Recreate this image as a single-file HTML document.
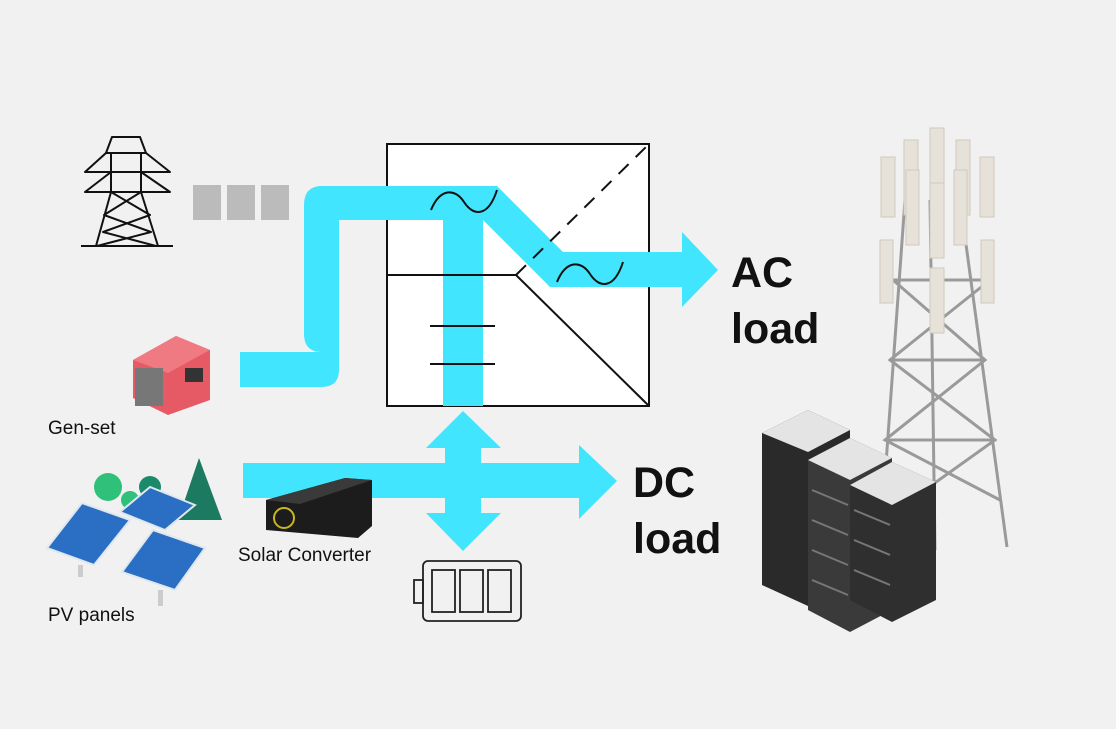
<!DOCTYPE html>
<html><head><meta charset="utf-8"><style>
html,body{margin:0;padding:0;background:#f0f1f0;}
svg{display:block}
text{font-family:"Liberation Sans",sans-serif;}
</style></head><body>
<svg width="1116" height="729" viewBox="0 0 1116 729" xmlns="http://www.w3.org/2000/svg">
<rect width="1116" height="729" fill="#f0f1f0"/>
<!-- pylon -->
<g stroke="#111" stroke-width="2" fill="none" stroke-linejoin="round">
<path d="M112,137 L140,137 L146,153 L106,153 Z"/>
<path d="M106,153 L85,172 L170,172 L146,153"/>
<path d="M111,153 L111,192 M141,153 L141,192"/>
<path d="M111,172 L85,192 L170,192 L141,172"/>
<path d="M111,192 L96,246 M141,192 L158,246"/>
<path d="M111,192 L150,215 L103,232 L156,246 M141,192 L104,215 L151,232 L97,246"/>
<path d="M81,246 L173,246"/>
</g>
<rect x="193" y="185" width="28" height="35" fill="#bbb"/>
<rect x="227" y="185" width="28" height="35" fill="#bbb"/>
<rect x="261" y="185" width="28" height="35" fill="#bbb"/>
<!-- box -->
<rect x="387" y="144" width="262" height="262" fill="#fff" stroke="#111" stroke-width="2"/>
<!-- cyan flows -->
<g fill="#41e5fd">
<path d="M240,352 L322,352 Q304,352 304,334 L304,205 Q304,186 322,186 L497,186 L563,252 L682,252 L682,232 L718,270 L682,307 L682,287 L550,287 L483,220 L339,220 L339,370 Q339,387 321,387 L240,387 Z"/>
<rect x="443" y="215" width="40" height="191"/>
<rect x="243" y="463" width="336" height="35"/>
<path d="M579,445 L617,481 L579,519 Z"/>
<rect x="445" y="446" width="36" height="70"/>
<path d="M426,448 L463,411 L501,448 Z"/>
<path d="M426,513 L463,551 L501,513 Z"/>
</g>
<g stroke="#111" stroke-width="2" fill="none">
<path d="M387,275 L516,275 L649,406"/>
<path d="M516,275 L649,144" stroke-dasharray="14,10"/>
<path d="M430,326 L495,326 M430,364 L495,364"/>
<path d="M431,210 C440,188 455,188 464,202 C473,216 488,218 497,190"/>
<path d="M557,282 C566,260 581,260 590,274 C599,288 614,290 623,262"/>
</g>
<!-- battery -->
<g stroke="#222" stroke-width="1.8" fill="none">
<rect x="423" y="561" width="98" height="60" rx="5"/>
<rect x="414" y="580" width="9" height="23"/>
<rect x="432" y="570" width="23" height="42"/>
<rect x="460" y="570" width="23" height="42"/>
<rect x="488" y="570" width="23" height="42"/>
</g>
<!-- solar converter -->
<path d="M266,500 L345,478 L372,480 L372,526 L358,538 L266,530 Z" fill="#1c1c1c"/>
<path d="M266,500 L345,478 L372,480 L300,504 Z" fill="#3a3a3a"/>
<circle cx="284" cy="518" r="10" fill="none" stroke="#c8b820" stroke-width="2"/>
<!-- labels -->
<text x="48" y="434" font-size="19" fill="#111">Gen-set</text>
<text x="238" y="561" font-size="19" fill="#111">Solar Converter</text>
<text x="48" y="621" font-size="19" fill="#111">PV panels</text>
<text x="731" y="287" font-size="43" font-weight="bold" fill="#111">AC</text>
<text x="731" y="343" font-size="43" font-weight="bold" fill="#111">load</text>
<text x="633" y="497" font-size="43" font-weight="bold" fill="#111">DC</text>
<text x="633" y="553" font-size="43" font-weight="bold" fill="#111">load</text>
<!-- gen-set -->
<path d="M133,360 L176,336 L210,350 L210,400 L168,415 L133,398 Z" fill="#e65a66"/>
<path d="M133,360 L176,336 L210,350 L168,373 Z" fill="#f07a82"/>
<rect x="135" y="368" width="28" height="38" fill="#777"/>
<rect x="185" y="368" width="18" height="14" fill="#333"/>
<!-- trees & PV -->
<circle cx="108" cy="487" r="14" fill="#2fc07a"/>
<circle cx="150" cy="487" r="11" fill="#1b8a6a"/>
<circle cx="130" cy="500" r="9" fill="#2fc07a"/>
<path d="M199,458 L222,520 L178,520 Z" fill="#1c7a60"/>
<g fill="#2a6fc4" stroke="#dfe7ef" stroke-width="2">
<path d="M47,548 L82,503 L130,520 L94,565 Z"/>
<path d="M120,512 L150,487 L195,505 L165,530 Z"/>
<path d="M122,572 L153,530 L205,548 L175,590 Z"/>
</g>
<rect x="78" y="565" width="5" height="12" fill="#ccc"/>
<rect x="158" y="590" width="5" height="16" fill="#ccc"/>
<!-- cell tower -->
<g stroke="#9a9a9a" stroke-width="3" fill="none">
<path d="M905,200 L880,547 M960,200 L1007,547 M930,200 L935,550"/>
<path d="M893,280 L985,360 L885,440 L1000,500 M990,280 L890,360 L995,440 L883,520"/>
<path d="M893,280 L990,280 M890,360 L985,360 M885,440 L995,440"/>
</g>
<g fill="#e6e2da" stroke="#cfc9bd">
<rect x="904" y="140" width="14" height="75"/><rect x="930" y="128" width="14" height="75"/><rect x="956" y="140" width="14" height="75"/>
<rect x="881" y="157" width="14" height="60"/><rect x="980" y="157" width="14" height="60"/>
<rect x="906" y="170" width="13" height="75"/><rect x="930" y="183" width="14" height="75"/><rect x="954" y="170" width="13" height="75"/>
<rect x="880" y="240" width="13" height="63"/><rect x="981" y="240" width="13" height="63"/>
<rect x="930" y="268" width="14" height="65"/>
</g>
<!-- racks -->
<path d="M762,433 L808,410 L850,430 L850,585 L808,606 L762,585 Z" fill="#2a2a2a"/>
<path d="M762,433 L808,410 L850,430 L808,452 Z" fill="#e4e4e4"/>
<path d="M808,460 L850,438 L892,458 L892,610 L850,632 L808,610 Z" fill="#3a3a3a"/>
<path d="M808,460 L850,438 L892,458 L850,480 Z" fill="#e4e4e4"/>
<path d="M850,485 L892,462 L936,482 L936,600 L892,622 L850,600 Z" fill="#2f2f2f"/>
<path d="M850,485 L892,462 L936,482 L892,505 Z" fill="#e4e4e4"/>
<g stroke="#777" stroke-width="2">
<path d="M812,490 L848,505 M812,520 L848,535 M812,550 L848,565 M812,580 L848,595"/>
<path d="M854,510 L890,525 M854,540 L890,555 M854,570 L890,585"/>
</g>
</svg>
</body></html>
